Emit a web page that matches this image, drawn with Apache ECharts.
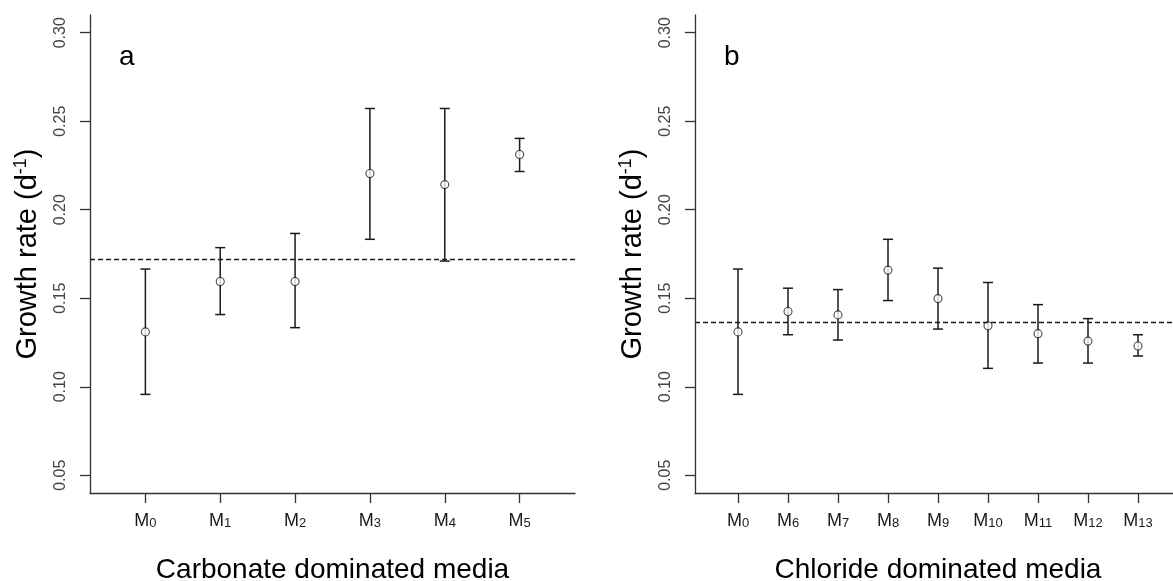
<!DOCTYPE html>
<html>
<head>
<meta charset="utf-8">
<script src="https://cdn.jsdelivr.net/npm/echarts@6/dist/echarts.min.js"></script>
<style>html,body{margin:0;padding:0;background:#fff}#c{width:1173px;height:581px}</style>
</head>
<body>
<div id="c"></div>
<script>
// ---- data ----
const catsA = ['M0', 'M1', 'M2', 'M3', 'M4', 'M5'];
const meanA = [0.131, 0.1595, 0.1595, 0.2205, 0.2142, 0.2312];
const lowA  = [0.0957, 0.1408, 0.1334, 0.1833, 0.171, 0.2216];
const highA = [0.1665, 0.1786, 0.1866, 0.2572, 0.2572, 0.2403];
const refA = 0.1723;

const catsB = ['M0', 'M6', 'M7', 'M8', 'M9', 'M10', 'M11', 'M12', 'M13'];
const meanB = [0.131, 0.1425, 0.1406, 0.1659, 0.1498, 0.1345, 0.130, 0.1258, 0.123];
const lowB  = [0.0957, 0.1294, 0.1264, 0.1487, 0.1326, 0.1104, 0.1134, 0.1134, 0.1174];
const highB = [0.1665, 0.1557, 0.1549, 0.1833, 0.167, 0.1589, 0.1464, 0.1385, 0.1294];
const refB = 0.1366;

const yTicks = [0.05, 0.10, 0.15, 0.20, 0.25, 0.30];
const yTitle = 'Growth rate';
const xTitleA = 'Carbonate dominated media';
const xTitleB = 'Chloride dominated media';
const panelA = 'a', panelB = 'b';

// ---- chart ----
const FONT = 'Liberation Sans, Arial, sans-serif';
const INK = '#1a1a1a';
const AX = '#333';

function xAxisFor(cats, gridIndex, title) {
  const idx = cats.map((_, i) => i);
  const pad = cats.length === 9 ? 0.86 : 0.74;
  return {
    type: 'value', gridIndex: gridIndex,
    min: -pad,
    max: cats.length - 1 + pad,
    axisLine: { show: true, onZero: false, lineStyle: { color: AX, width: 1.3 } },
    axisTick: { show: true, customValues: idx, length: 10, inside: false, lineStyle: { color: AX, width: 1.3 } },
    axisLabel: {
      show: true, customValues: idx, margin: 19,
      formatter: function (v) {
        const c = cats[Math.round(v)];
        return '{m|' + c.charAt(0) + '}{s|' + c.slice(1) + '}';
      },
      rich: {
        m: { fontFamily: FONT, fontSize: 18, color: INK },
        s: { fontFamily: FONT, fontSize: 13, color: INK, verticalAlign: 'bottom', padding: [5, 0, 0, 0] }
      }
    },
    splitLine: { show: false },
    name: title, nameLocation: 'middle', nameGap: 63,
    nameTextStyle: { fontFamily: FONT, fontSize: 28, color: '#000' }
  };
}

function yAxisFor(gridIndex) {
  return {
    type: 'value', gridIndex: gridIndex, min: 0.04, max: 0.31,
    axisLine: { show: true, onZero: false, lineStyle: { color: AX, width: 1.3 } },
    axisTick: { show: true, customValues: yTicks, length: 10, lineStyle: { color: AX, width: 1.3 } },
    axisLabel: {
      show: true, customValues: yTicks, rotate: 90, margin: 21,
      fontFamily: FONT, fontSize: 16, color: '#444',
      formatter: v => v.toFixed(2)
    },
    splitLine: { show: false },
    name: '{a|' + yTitle + ' (d}{s|-1}{a|)}',
    nameLocation: 'middle', nameGap: 46, nameRotate: 90,
    nameTextStyle: {
      rich: {
        a: { fontFamily: FONT, fontSize: 29, color: '#000', lineHeight: 32 },
        s: { fontFamily: FONT, fontSize: 18, color: '#000', verticalAlign: 'top', lineHeight: 32, padding: [0, 0, 12, 0] }
      }
    }
  };
}

function errorSeries(mean, low, high, axisIdx) {
  return {
    type: 'custom', xAxisIndex: axisIdx, yAxisIndex: axisIdx,
    data: mean.map((m, i) => [i, low[i], high[i]]),
    encode: { x: 0, y: [1, 2] },
    renderItem: function (params, api) {
      const x = api.value(0);
      const lo = api.coord([x, api.value(1)]);
      const hi = api.coord([x, api.value(2)]);
      const w = 5;
      const st = { stroke: INK, lineWidth: 1.5 };
      return {
        type: 'group',
        children: [
          { type: 'line', shape: { x1: lo[0], y1: lo[1], x2: hi[0], y2: hi[1] }, style: st },
          { type: 'line', shape: { x1: lo[0] - w, y1: lo[1], x2: lo[0] + w, y2: lo[1] }, style: st },
          { type: 'line', shape: { x1: hi[0] - w, y1: hi[1], x2: hi[0] + w, y2: hi[1] }, style: st }
        ]
      };
    },
    z: 2
  };
}

function pointSeries(mean, ref, axisIdx) {
  return {
    type: 'scatter', xAxisIndex: axisIdx, yAxisIndex: axisIdx,
    data: mean.map((m, i) => [i, m]),
    symbol: 'circle', symbolSize: 8,
    itemStyle: { color: '#fff', borderColor: INK, borderWidth: 1.1 },
    z: 3,
    markLine: {
      silent: true, symbol: ['none', 'none'], precision: 4,
      label: { show: false },
      lineStyle: { color: INK, type: [5, 3], width: 1.3 },
      data: [{ yAxis: ref }]
    }
  };
}

const chart = echarts.init(document.getElementById('c'), null, { renderer: 'canvas' });
chart.setOption({
  backgroundColor: '#fff',
  animation: false,
  title: [
    { text: panelA, left: 114, top: 38, textStyle: { fontFamily: FONT, fontSize: 28, fontWeight: 'normal', color: '#000' } },
    { text: panelB, left: 719, top: 38, textStyle: { fontFamily: FONT, fontSize: 28, fontWeight: 'normal', color: '#000' } }
  ],
  grid: [
    { left: 90, top: 15, width: 485, height: 478, containLabel: false, outerBoundsMode: 'none' },
    { left: 695, top: 15, width: 486, height: 478, containLabel: false, outerBoundsMode: 'none' }
  ],
  xAxis: [xAxisFor(catsA, 0, xTitleA), xAxisFor(catsB, 1, xTitleB)],
  yAxis: [yAxisFor(0), yAxisFor(1)],
  series: [
    errorSeries(meanA, lowA, highA, 0),
    pointSeries(meanA, refA, 0),
    errorSeries(meanB, lowB, highB, 1),
    pointSeries(meanB, refB, 1)
  ]
});
</script>
</body>
</html>
